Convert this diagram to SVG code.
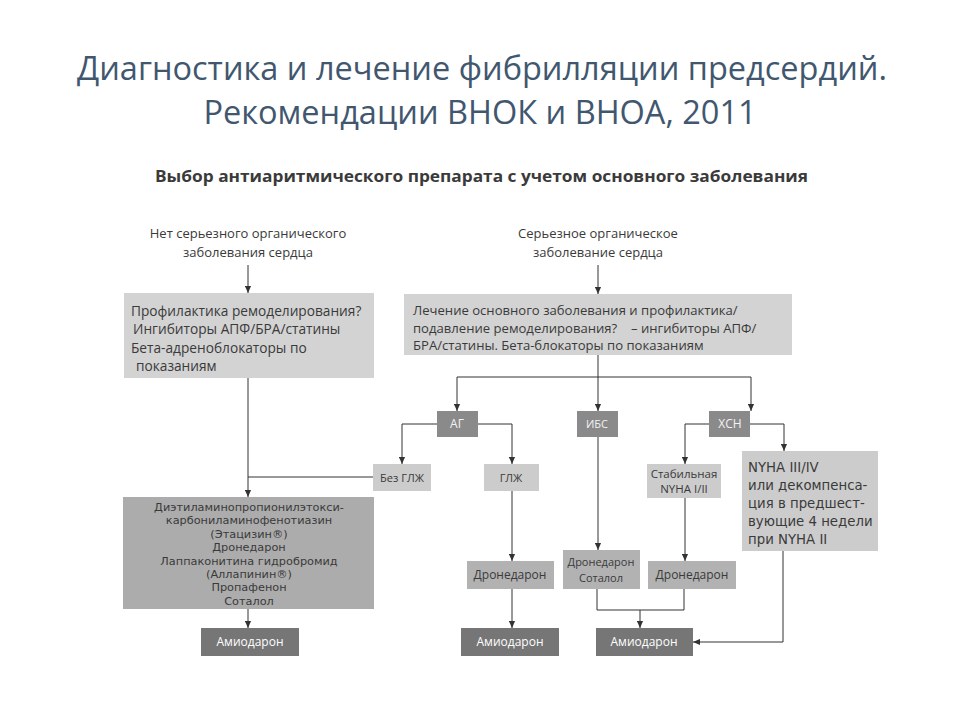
<svg xmlns="http://www.w3.org/2000/svg" width="960" height="720" viewBox="0 0 960 720">
<style>
.t{font-family:"Open Sans","Liberation Sans",sans-serif;fill:#3a3a3a}
.title{font-family:"Open Sans","Liberation Sans",sans-serif;fill:#41576f;font-size:32.5px;text-anchor:middle}
.c{text-anchor:middle}
.w{fill:#ffffff}
.lw{fill:#f2f2f2}
.v{font-family:"DejaVu Sans","Liberation Sans",sans-serif;fill:#3a3a3a;font-size:13.3px}
.d{font-family:"DejaVu Sans","Liberation Sans",sans-serif;fill:#3a3a3a;font-size:11.3px;text-anchor:middle}
.ln{fill:none;stroke:#333;stroke-width:1}
.lt{fill:#d3d3d3}
.sm{fill:#cccccc}
.md{fill:#b2b2b2}
.bg{fill:#acacac}
.dk{fill:#8a8a8a}
.am{fill:#767676}
</style>
<defs>
<marker id="a" viewBox="0 0 8 8" refX="8" refY="4" markerWidth="7" markerHeight="7" markerUnits="userSpaceOnUse" orient="auto">
<path d="M0,0.5 L8,4 L0,7.5 Z" fill="#333"/>
</marker>
</defs>
<rect width="960" height="720" fill="#ffffff"/>
<text class="title" x="482" y="80">Диагностика и лечение фибрилляции предсердий.</text>
<text class="title" x="480" y="124">Рекомендации ВНОК и ВНОА, 2011</text>
<text class="t" x="155" y="182" font-size="16" font-weight="bold" fill="#222" textLength="653" lengthAdjust="spacingAndGlyphs">Выбор антиаритмического препарата с учетом основного заболевания</text>

<g id="no-disease">
<text class="t c" x="248" y="238" font-size="13">Нет серьезного органического</text>
<text class="t c" x="248" y="257" font-size="13">заболевания сердца</text>
</g>
<g id="disease">
<text class="t c" x="598" y="238" font-size="13">Серьезное органическое</text>
<text class="t c" x="598" y="257" font-size="13">заболевание сердца</text>
</g>
<g id="prevention">
<rect class="lt" x="124" y="293" width="250" height="85"/>
<text class="t" x="131" y="316" font-size="13.7">Профилактика ремоделирования?</text>
<text class="t" x="133" y="334" font-size="13.7">Ингибиторы АПФ/БРА/статины</text>
<text class="t" x="131" y="353" font-size="13.7">Бета-адреноблокаторы по</text>
<text class="t" x="136" y="371" font-size="13.7">показаниям</text>
</g>
<g id="treatment">
<rect class="lt" x="404" y="294" width="388" height="61"/>
<text class="t" x="413" y="315" font-size="13.1">Лечение основного заболевания и профилактика/</text>
<text class="t" x="413" y="333" font-size="13.1">подавление ремоделирования?<tspan x="631">– ингибиторы АПФ/</tspan></text>
<text class="t" x="413" y="350" font-size="13.1">БРА/статины. Бета-блокаторы по показаниям</text>
</g>
<g id="ag">
<rect class="dk" x="437" y="411" width="41" height="26"/>
<text class="t c lw" x="457" y="428" font-size="12">АГ</text>
</g>
<g id="ibs">
<rect class="dk" x="577" y="411" width="41" height="26"/>
<text class="t c lw" x="597" y="428" font-size="11">ИБС</text>
</g>
<g id="hsn">
<rect class="dk" x="709" y="411" width="41" height="26"/>
<text class="t c lw" x="730" y="428" font-size="12">ХСН</text>
</g>
<g id="no-lvh">
<rect class="sm" x="373" y="464" width="58" height="27"/>
<text class="t c" x="402" y="482" font-size="11">Без ГЛЖ</text>
</g>
<g id="lvh">
<rect class="sm" x="484" y="464" width="55" height="27"/>
<text class="t c" x="511" y="482" font-size="11">ГЛЖ</text>
</g>
<g id="stable">
<rect class="sm" x="647" y="464" width="74" height="34"/>
<text class="t c" x="684" y="478" font-size="11.5">Стабильная</text>
<text class="t c" x="684" y="493" font-size="11.5">NYHA I/II</text>
</g>
<g id="nyha34">
<rect class="sm" x="742" y="451" width="136" height="100"/>
<text class="v" x="748" y="472">NYHA III/IV</text>
<text class="v" x="748" y="490">или декомпенса-</text>
<text class="v" x="748" y="508">ция в предшест-</text>
<text class="v" x="748" y="526">вующие 4 недели</text>
<text class="v" x="748" y="544">при NYHA II</text>
</g>
<g id="drugs">
<rect class="bg" x="123" y="497" width="251" height="112"/>
<text class="d" x="249" y="511">Диэтиламинопропионилэтокси-</text>
<text class="d" x="249" y="524.4">карбониламинофенотиазин</text>
<text class="d" x="249" y="537.8">(Этацизин®)</text>
<text class="d" x="249" y="551.2">Дронедарон</text>
<text class="d" x="249" y="564.6">Лаппаконитина гидробромид</text>
<text class="d" x="249" y="578">(Аллапинин®)</text>
<text class="d" x="249" y="591.4">Пропафенон</text>
<text class="d" x="249" y="604.8">Соталол</text>
</g>
<g id="dron1">
<rect class="md" x="467" y="561" width="87" height="28"/>
<text class="t c" x="510" y="579" font-size="12">Дронедарон</text>
</g>
<g id="dron-sot">
<rect class="md" x="563" y="550" width="77" height="39"/>
<text class="t c" x="601" y="566" font-size="11">Дронедарон</text>
<text class="t c" x="601" y="582" font-size="11">Соталол</text>
</g>
<g id="dron2">
<rect class="md" x="648" y="561" width="88" height="28"/>
<text class="t c" x="692" y="579" font-size="12">Дронедарон</text>
</g>
<g id="amio1">
<rect class="am" x="201" y="628" width="98" height="28"/>
<text class="t c w" x="250" y="646" font-size="12">Амиодарон</text>
</g>
<g id="amio2">
<rect class="am" x="461" y="628" width="98" height="28"/>
<text class="t c w" x="510" y="646" font-size="12">Амиодарон</text>
</g>
<g id="amio3">
<rect class="am" x="596" y="628" width="97" height="28"/>
<text class="t c w" x="644" y="646" font-size="12">Амиодарон</text>
</g>

<g id="connectors">
<path class="ln" d="M248,265 V293" marker-end="url(#a)"/>
<path class="ln" d="M598,265 V294" marker-end="url(#a)"/>
<path class="ln" d="M248,378 V497" marker-end="url(#a)"/>
<path class="ln" d="M373,477 H248"/>
<path class="ln" d="M598,355 V411" marker-end="url(#a)"/>
<path class="ln" d="M598,377 H457 V411" marker-end="url(#a)"/>
<path class="ln" d="M598,377 H751 V411" marker-end="url(#a)"/>
<path class="ln" d="M437,424 H402 V464" marker-end="url(#a)"/>
<path class="ln" d="M478,424 H512 V464" marker-end="url(#a)"/>
<path class="ln" d="M709,424 H685 V464" marker-end="url(#a)"/>
<path class="ln" d="M750,424 H784 V451" marker-end="url(#a)"/>
<path class="ln" d="M512,491 V561" marker-end="url(#a)"/>
<path class="ln" d="M598,437 V550" marker-end="url(#a)"/>
<path class="ln" d="M685,498 V561" marker-end="url(#a)"/>
<path class="ln" d="M248,609 V628" marker-end="url(#a)"/>
<path class="ln" d="M512,589 V628" marker-end="url(#a)"/>
<path class="ln" d="M597,589 V610 H684 V589"/>
<path class="ln" d="M640,610 V628" marker-end="url(#a)"/>
<path class="ln" d="M783,551 V642 H693" marker-end="url(#a)"/>
</g>
</svg>
